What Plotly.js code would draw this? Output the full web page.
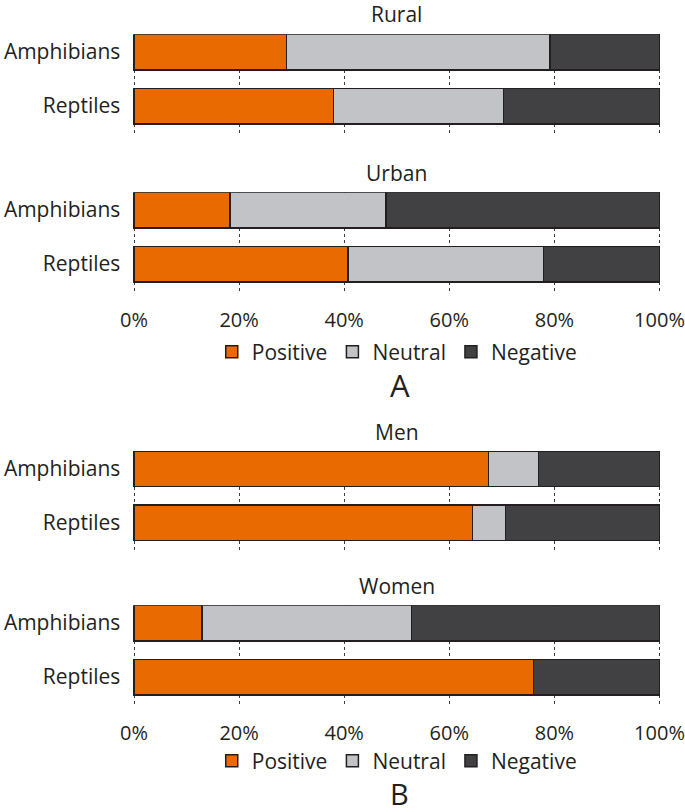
<!DOCTYPE html>
<html>
<head>
<meta charset="utf-8">
<script src="https://cdn.plot.ly/plotly-3.0.1.min.js"></script>
<style>
  html, body { margin: 0; padding: 0; background: #ffffff; }
  #chart { width: 685px; height: 812px; }
</style>
</head>
<body>
<div id="chart"></div>
<script>
// ---- Data (percent of respondents) ----
const categories = ['Amphibians', 'Reptiles'];
const seriesNames = ['Positive', 'Neutral', 'Negative'];
const panelTitles = ['Rural', 'Urban', 'Men', 'Women'];
const panelLetters = ['A', 'B'];
const xTickValues = [0, 20, 40, 60, 80, 100];
const xTickLabels = ['0%', '20%', '40%', '60%', '80%', '100%'];

const ruralPositive = [29.0, 38.0];
const ruralNeutral  = [50.2, 32.3];
const ruralNegative = [20.8, 29.7];

const urbanPositive = [18.3, 40.7];
const urbanNeutral  = [29.7, 37.2];
const urbanNegative = [52.0, 22.1];

const menPositive = [67.5, 64.4];
const menNeutral  = [9.5, 6.3];
const menNegative = [23.0, 29.3];

const womenPositive = [12.9, 76.0];
const womenNeutral  = [39.9, 0.0];
const womenNegative = [47.2, 24.0];

// ---- Styling / layout ----
const W = 685, H = 812;
const FONT = 'Open Sans, Noto Sans, sans-serif';
const TXT = '#231f20';
const colors = { Positive: '#e86a00', Neutral: '#c2c3c7', Negative: '#414042' };
const py = px => 1 - px / H;
const px2x = px => px / W;

// 0% at x=134 px, 100% at x=659.5 px; range padded by 0.5 units each side
const pad = 0.5;
const x0px = 134, x100px = 659.5;
const pxPerUnit = (x100px - x0px) / 100;
const xDomain = [px2x(x0px - pad * pxPerUnit), px2x(x100px + pad * pxPerUnit)];
const xCenter = px2x((x0px + x100px) / 2);

// subplot vertical extents (pixel tops), each 99.5 px tall
const subTops = [34.3, 192.3, 451.0, 605.3];
const subH = 99.5;
const titleCenters = [12.5, 172.0, 430.5, 585.0];

const panelData = [
  [ruralPositive, ruralNeutral, ruralNegative],
  [urbanPositive, urbanNeutral, urbanNegative],
  [menPositive, menNeutral, menNegative],
  [womenPositive, womenNeutral, womenNegative]
];

const traces = [];
panelData.forEach((vals, pi) => {
  const sfx = pi === 0 ? '' : String(pi + 1);
  seriesNames.forEach((s, si) => {
    traces.push({
      type: 'bar',
      orientation: 'h',
      name: s,
      y: categories,
      x: vals[si],
      xaxis: 'x' + sfx,
      yaxis: 'y' + sfx,
      width: 0.657,
      marker: { color: colors[s], line: { color: TXT, width: 1.5 } },
      legend: pi < 2 ? 'legend' : 'legend2',
      legendgroup: s + (pi < 2 ? 'A' : 'B'),
      showlegend: pi === 0 || pi === 2,
      hoverinfo: 'skip'
    });
  });
});

const legendBase = {
  orientation: 'h', x: xCenter, xanchor: 'center', yanchor: 'middle',
  font: { family: FONT, size: 21, color: TXT }, bgcolor: 'rgba(0,0,0,0)',
  traceorder: 'normal', itemclick: false, itemdoubleclick: false
};

const layout = {
  width: W, height: H,
  margin: { l: 0, r: 0, t: 0, b: 0 },
  paper_bgcolor: '#ffffff',
  plot_bgcolor: '#ffffff',
  barmode: 'stack',
  font: { family: FONT, size: 21, color: TXT },
  showlegend: true,
  annotations: [],
  legend: Object.assign({}, legendBase, { y: py(352) }),
  legend2: Object.assign({}, legendBase, { y: py(761) })
};

panelTitles.forEach((t, pi) => {
  const sfx = pi === 0 ? '' : String(pi + 1);
  const top = subTops[pi], bottom = top + subH;
  layout['xaxis' + sfx] = {
    domain: xDomain,
    anchor: 'y' + sfx,
    range: [-pad, 100 + pad],
    tickmode: 'array',
    tickvals: xTickValues,
    ticktext: xTickLabels,
    showticklabels: pi === 1 || pi === 3,
    ticklabeloverflow: 'allow',
    ticks: '',
    ticklabelstandoff: 14,
    showgrid: true,
    gridcolor: '#3a3a3a',
    gridwidth: 1,
    griddash: 'dot',
    zeroline: false,
    showline: false,
    fixedrange: true,
    tickfont: { family: FONT, size: 20, color: TXT }
  };
  layout['yaxis' + sfx] = {
    domain: [py(bottom), py(top)],
    anchor: 'x' + sfx,
    type: 'category',
    range: [1.514, -0.329],
    showgrid: false,
    zeroline: false,
    showline: false,
    ticks: '',
    ticklabelstandoff: 10,
    fixedrange: true,
    tickfont: { family: FONT, size: 21, color: TXT }
  };
  layout.annotations.push({
    text: t, xref: 'paper', yref: 'paper', x: xCenter, y: py(titleCenters[pi] + 1),
    xanchor: 'center', yanchor: 'middle', showarrow: false,
    font: { family: FONT, size: 21, color: TXT }
  });
});

const letterCenters = [385, 793];
const letterSizes = [31, 29];
panelLetters.forEach((L, i) => {
  layout.annotations.push({
    text: L, xref: 'paper', yref: 'paper', x: px2x(400), y: py(letterCenters[i]),
    xanchor: 'center', yanchor: 'middle', showarrow: false, borderpad: 0,
    font: { family: FONT, size: letterSizes[i], color: TXT }
  });
});

Plotly.newPlot('chart', traces, layout, { displayModeBar: false, staticPlot: true });
</script>
</body>
</html>
